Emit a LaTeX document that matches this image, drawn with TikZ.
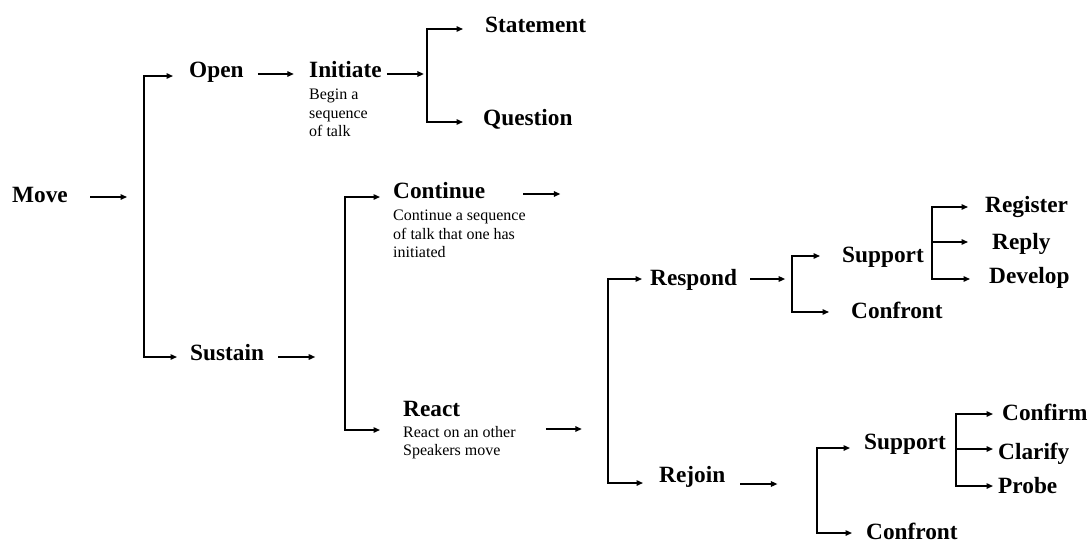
\documentclass[tikz,border=0pt]{standalone}
\usepackage{fontspec}
\setmainfont{Liberation Serif}
\usepackage{tikz}
\usetikzlibrary{arrows.meta}
\tikzstyle{lbl}=[inner sep=0pt, anchor=base west, font=\fontsize{23.3}{28}\selectfont\bfseries]
\tikzstyle{desc}=[inner sep=0pt, anchor=north west, align=left, font=\fontsize{16}{18.5}\selectfont]
\tikzstyle{arr}=[line width=1.4pt, -{Triangle[length=6.5pt,width=5.5pt]}]
\tikzstyle{fork}=[arr, {Triangle[length=6.5pt,width=5.5pt]}-{Triangle[length=6.5pt,width=5.5pt]}]

\begin{document}
\begin{tikzpicture}[x=1pt, y=-1pt]
    \useasboundingbox (0,0) rectangle (1091,544);
    \node[lbl]  (Move)        at (12,202)   {Move};
    \node[lbl]  (Open)        at (189,77)   {Open};
    \node[lbl]  (Initiate)    at (309,77)   {Initiate};
    \node[desc] (InitiateTxt) at (309,89)   {Begin a\\sequence\\of talk};
    \node[lbl]  (Statement)   at (485,32)   {Statement};
    \node[lbl]  (Question)    at (483,125)  {Question};
    \node[lbl]  (Sustain)     at (190,360)  {Sustain};
    \node[lbl]  (Continue)    at (393,198)  {Continue};
    \node[desc] (ContinueTxt) at (393,210)  {Continue a sequence\\of talk that one has\\initiated};
    \node[lbl]  (React)       at (403,416)  {React};
    \node[desc] (ReactTxt)    at (403,426)  {React on an other\\Speakers move};
    \node[lbl]  (Respond)     at (650,285)  {Respond};
    \node[lbl]  (Rejoin)      at (659,482)  {Rejoin};
    \node[lbl]  (SupportA)    at (842,262)  {Support};
    \node[lbl]  (ConfrontA)   at (851,318)  {Confront};
    \node[lbl]  (Register)    at (985,212)  {Register};
    \node[lbl]  (Reply)       at (992,249)  {Reply};
    \node[lbl]  (Develop)     at (989,283)  {Develop};
    \node[lbl]  (SupportB)    at (864,449)  {Support};
    \node[lbl]  (ConfrontB)   at (866,539)  {Confront};
    \node[lbl]  (Confirm)     at (1002,420) {Confirm};
    \node[lbl]  (Clarify)     at (998,459)  {Clarify};
    \node[lbl]  (Probe)       at (998,493)  {Probe};

    \coordinate (toOpen)      at (173,76);
    \coordinate (forkMove)    at (144,357);
    \coordinate (toSustain)   at (177,357);
    \coordinate (toStatement) at (463,29);
    \coordinate (forkInit)    at (427,122);
    \coordinate (toQuestion)  at (463,122);
    \coordinate (toContinue)  at (380,197);
    \coordinate (forkSust)    at (345,430);
    \coordinate (toReact)     at (380,430);
    \coordinate (toRespond)   at (642,279);
    \coordinate (forkReact)   at (608,483);
    \coordinate (toRejoin)    at (643,483);
    \coordinate (toSupportA)  at (820,256);
    \coordinate (forkResp)    at (792,312);
    \coordinate (toConfrontA) at (829,312);
    \coordinate (toRegister)  at (968,207);
    \coordinate (toReply)     at (968,242);
    \coordinate (forkSuppA)   at (932,279);
    \coordinate (toDevelop)   at (970,279);
    \coordinate (toSupportB)  at (850,448);
    \coordinate (forkRej)     at (817,533);
    \coordinate (toConfrontB) at (852,533);
    \coordinate (toConfirm)   at (993,414);
    \coordinate (toClarify)   at (993,449);
    \coordinate (forkSuppB)   at (956,486);
    \coordinate (toProbe)     at (993,486);

    \draw[arr] (Move.base east) ++(22,-5) -- ++(37,0);
    \draw[arr] (Open.base east) ++(14,-3) -- ++(36,0);
    \draw[arr] (Initiate.base east) ++(5,-3) -- ++(37,0);
    \draw[arr] (Sustain.base east) ++(14,-3) -- ++(37,0);
    \draw[arr] (Continue.base east) ++(38,-4) -- ++(37,0);
    \draw[arr] (ReactTxt.north east) ++(30,3) -- ++(36,0);
    \draw[arr] (Respond.base east) ++(13,-6) -- ++(35,0);
    \draw[arr] (Rejoin.base east) ++(15,2) -- ++(37,0);

    \draw[fork] (toOpen) -| (forkMove) -- (toSustain);
    \draw[fork] (toStatement) -| (forkInit) -- (toQuestion);
    \draw[fork] (toContinue) -| (forkSust) -- (toReact);
    \draw[fork] (toRespond) -| (forkReact) -- (toRejoin);
    \draw[fork] (toSupportA) -| (forkResp) -- (toConfrontA);
    \draw[fork] (toRegister) -| (forkSuppA) -- (toDevelop);
    \draw[arr]  (forkSuppA |- toReply) -- (toReply);
    \draw[fork] (toSupportB) -| (forkRej) -- (toConfrontB);
    \draw[fork] (toConfirm) -| (forkSuppB) -- (toProbe);
    \draw[arr]  (forkSuppB |- toClarify) -- (toClarify);
\end{tikzpicture}
\end{document}
